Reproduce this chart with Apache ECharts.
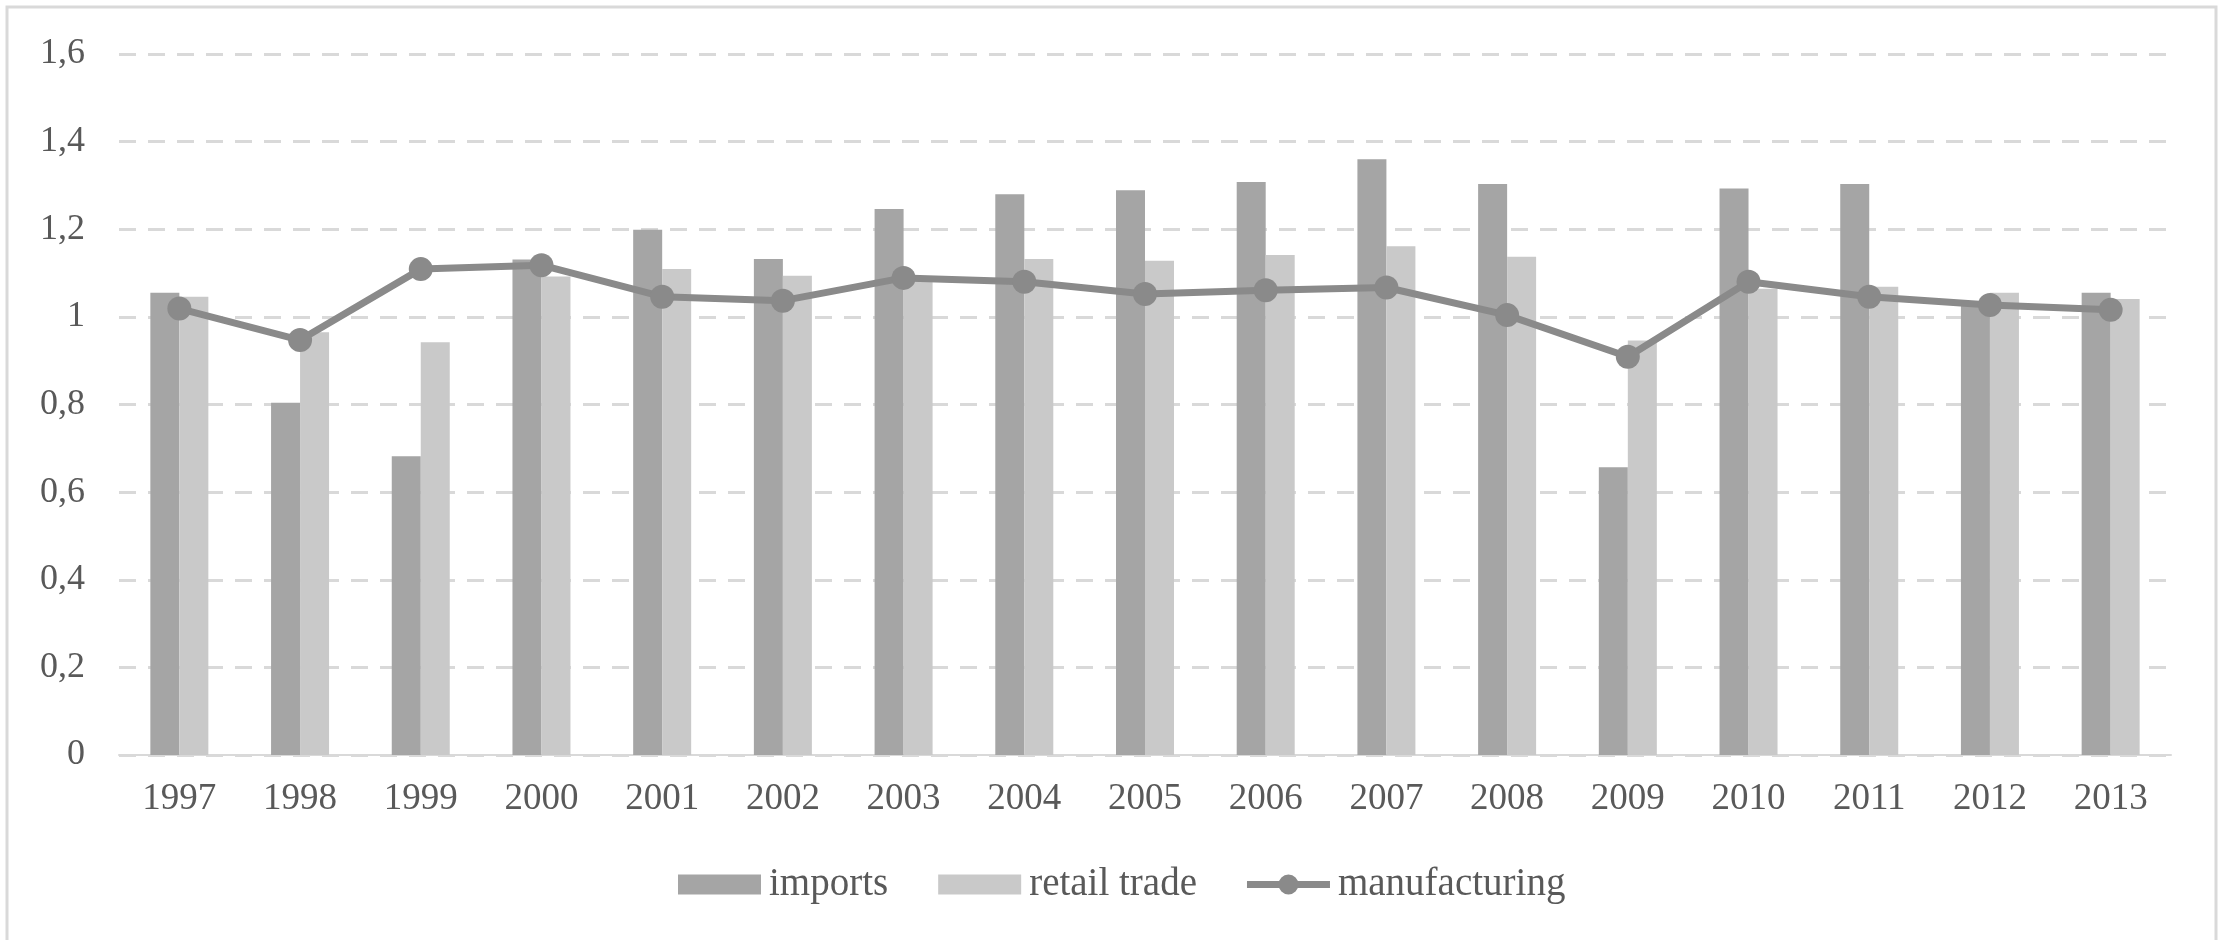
<!DOCTYPE html>
<html>
<head>
<meta charset="utf-8">
<script src="https://cdn.jsdelivr.net/npm/echarts@6/dist/echarts.min.js"></script>
<style>
  html, body { margin: 0; padding: 0; background: #ffffff; }
  #chart { width: 2223px; height: 940px; }
</style>
</head>
<body>
<div id="chart"></div>
<script>
// Year categories along the x axis
const years = ['1997','1998','1999','2000','2001','2002','2003','2004','2005',
               '2006','2007','2008','2009','2010','2011','2012','2013'];

// Index values per year
const imports = [1.055, 0.804, 0.682, 1.131, 1.199, 1.132, 1.246, 1.280, 1.289,
                 1.308, 1.360, 1.303, 0.657, 1.293, 1.303, 1.029, 1.055];
const retailTrade = [1.046, 0.965, 0.942, 1.092, 1.109, 1.094, 1.090, 1.132, 1.128,
                     1.141, 1.161, 1.137, 0.946, 1.064, 1.069, 1.055, 1.041];
const manufacturing = [1.019, 0.947, 1.109, 1.118, 1.046, 1.037, 1.089, 1.080, 1.052,
                       1.061, 1.067, 1.004, 0.909, 1.080, 1.046, 1.027, 1.016];

const seriesNames = ['imports', 'retail trade', 'manufacturing'];

const FONT = '"Liberation Serif", "Times New Roman", serif';
const TEXT_COLOR = '#595959';

// Legend marker for the line series: a thick stroke with a dot in the middle
const lineMarker = 'path://M0,6.5 H83 V13.5 H0 Z M31.5,10 A10,10 0 1,1 51.5,10 A10,10 0 1,1 31.5,10 Z';

const chart = echarts.init(document.getElementById('chart'), null, { renderer: 'canvas' });

chart.setOption({
  backgroundColor: '#ffffff',
  animation: false,
  graphic: [{
    type: 'rect',
    shape: { x: 7, y: 7, width: 2209, height: 1000 },
    style: { fill: 'none', stroke: '#d9d9d9', lineWidth: 3 },
    silent: true
  }],
  grid: { left: 119, right: 52, top: 54, bottom: 185 },
  legend: {
    data: [
      { name: seriesNames[0], icon: 'rect' },
      { name: seriesNames[1], icon: 'rect' },
      { name: seriesNames[2], icon: lineMarker }
    ],
    bottom: 31,
    left: 673,
    itemWidth: 83,
    itemHeight: 20,
    itemGap: 50,
    textStyle: { fontFamily: FONT, fontSize: 39, color: TEXT_COLOR, padding: [0, 0, 0, 3] }
  },
  xAxis: {
    type: 'category',
    data: years,
    axisTick: { show: false },
    axisLine: { lineStyle: { color: '#d9d9d9', width: 2 } },
    axisLabel: { fontFamily: FONT, fontSize: 37, color: TEXT_COLOR, margin: 26 }
  },
  yAxis: {
    type: 'value',
    min: 0,
    max: 1.6,
    interval: 0.2,
    axisLine: { show: false },
    axisTick: { show: false },
    axisLabel: {
      fontFamily: FONT, fontSize: 36, color: TEXT_COLOR, margin: 34,
      formatter: v => (Math.round(v * 10) / 10).toString().replace('.', ',')
    },
    splitLine: {
      lineStyle: { color: '#d9d9d9', width: 3, type: [17, 12] }
    }
  },
  series: [
    {
      name: seriesNames[0],
      type: 'bar',
      data: imports,
      barWidth: 29,
      barGap: '0%',
      itemStyle: { color: '#a5a5a5' }
    },
    {
      name: seriesNames[1],
      type: 'bar',
      data: retailTrade,
      barWidth: 29,
      itemStyle: { color: '#c9c9c9' }
    },
    {
      name: seriesNames[2],
      type: 'line',
      data: manufacturing,
      symbol: 'circle',
      symbolSize: 24,
      z: 5,
      lineStyle: { color: '#8a8a8a', width: 7 },
      itemStyle: { color: '#8a8a8a' }
    }
  ]
});
</script>
</body>
</html>
